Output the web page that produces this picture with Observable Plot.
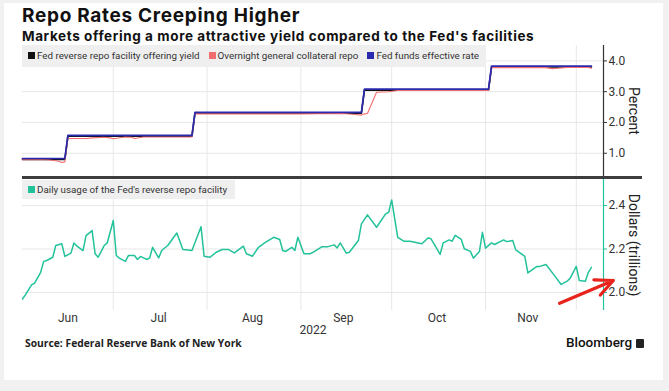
<!DOCTYPE html>
<html>
<head>
<meta charset="utf-8">
<script src="https://cdn.jsdelivr.net/npm/d3@7"></script>
<script src="https://cdn.jsdelivr.net/npm/@observablehq/plot@0.6"></script>
<style>
  body { margin: 0; background: #f1f1f1; font-family: Roboto, "Open Sans", sans-serif; }
  #page { position: relative; width: 669px; height: 391px; overflow: hidden; }
  #card { position: absolute; left: 4px; top: 3px; width: 659px; height: 377px; background: #fff; }
  .abs { position: absolute; white-space: nowrap; }
  #title { left: 22px; top: 6px; font-family: Inter, sans-serif; font-size: 19px; font-weight: 700; color: #111; line-height: 20px; letter-spacing: 0.7px; }
  #subtitle { left: 22px; top: 28.6px; font-family: Inter, sans-serif; font-size: 13.5px; font-weight: 700; color: #111; line-height: 15px; letter-spacing: 0.6px; }
  .legend { position: absolute; background: #efefef; font-size: 9.8px; color: #333; z-index: 2; white-space: nowrap; }
  .legend .item { display: inline-block; margin-right: 9px; }
  .legend .sw { display: inline-block; width: 7px; height: 7px; margin-right: 2px; vertical-align: 0px; }
  #sep { position: absolute; left: 22px; top: 176px; width: 620px; height: 3px; background: #3d3d3d; z-index: 3; }
  #source { left: 25px; top: 336px; font-family: "Open Sans", sans-serif; font-size: 10.3px; font-weight: 700; color: #222; line-height: 14px; }
  #brand { left: 566px; top: 334px; font-size: 13.5px; font-weight: 500; color: #111; line-height: 16px; }
  #top, #bottom { position: absolute; left: 0; }
  #top { top: 45px; } #bottom { top: 179px; }
</style>
</head>
<body>
<div id="page">
  <div id="card"></div>
  <div id="top"></div>
  <div id="bottom"></div>
  <div id="sep"></div>
  <div class="abs" id="title">Repo Rates Creeping Higher</div>
  <div class="abs" id="subtitle">Markets offering a more attractive yield compared to the Fed's facilities</div>
  <div class="legend" id="legTop" style="left:22px;top:45px;width:458px;height:22px;line-height:22px;padding-left:6px;"></div>
  <div class="legend" id="legBottom" style="left:22px;top:180px;width:207px;height:19px;line-height:19px;padding-left:6px;"></div>
  <div class="abs" id="source">Source: Federal Reserve Bank of New York</div>
  <div class="abs" id="brand">Bloomberg <span style="display:inline-block;width:8px;height:9px;background:#222;border-radius:1px;vertical-align:-1px"></span></div>
</div>
<script>
// ---------- data ----------
const seriesNames = ["Fed reverse repo facility offering yield", "Overnight general collateral repo", "Fed funds effective rate"];
const seriesColors = ["#111111", "#f26d6d", "#2a2aae"];
const usageName = "Daily usage of the Fed's reverse repo facility";
const usageColor = "#22c29a";

const rrpDates = ["2022-06-01","2022-06-15","2022-06-16","2022-07-27","2022-07-28","2022-09-21","2022-09-22","2022-11-02","2022-11-03","2022-12-06"];
const rrpValues = [0.80, 0.80, 1.55, 1.55, 2.30, 2.30, 3.05, 3.05, 3.80, 3.80];

const effrDates = ["2022-06-01","2022-06-15","2022-06-16","2022-07-27","2022-07-28","2022-09-21","2022-09-22","2022-11-02","2022-11-03","2022-12-06"];
const effrValues = [0.83, 0.83, 1.58, 1.58, 2.33, 2.33, 3.08, 3.08, 3.83, 3.83];

const gcDates = ["2022-06-01","2022-06-08","2022-06-10","2022-06-13","2022-06-14","2022-06-15","2022-06-16","2022-06-22","2022-06-24","2022-06-28","2022-06-30","2022-07-01","2022-07-05","2022-07-07","2022-07-08","2022-07-11","2022-07-27","2022-07-28","2022-08-31","2022-09-15","2022-09-19","2022-09-21","2022-09-22","2022-09-23","2022-09-26","2022-09-30","2022-10-03","2022-11-02","2022-11-03","2022-11-21","2022-11-23","2022-11-25","2022-11-28","2022-12-05","2022-12-06"];
const gcValues = [0.79, 0.79, 0.78, 0.74, 0.70, 0.72, 1.48, 1.48, 1.50, 1.52, 1.50, 1.47, 1.53, 1.52, 1.48, 1.53, 1.53, 2.28, 2.28, 2.29, 2.26, 2.24, 2.28, 2.29, 2.98, 3.00, 3.04, 3.04, 3.78, 3.78, 3.75, 3.76, 3.79, 3.79, 3.76];

const usageDates = ["2022-06-01","2022-06-02","2022-06-04","2022-06-05","2022-06-07","2022-06-08","2022-06-09","2022-06-11","2022-06-12","2022-06-14","2022-06-15","2022-06-17","2022-06-18","2022-06-19","2022-06-21","2022-06-22","2022-06-24","2022-06-25","2022-06-26","2022-06-28","2022-06-29","2022-07-01","2022-07-02","2022-07-03","2022-07-05","2022-07-06","2022-07-08","2022-07-09","2022-07-10","2022-07-12","2022-07-13","2022-07-14","2022-07-16","2022-07-17","2022-07-19","2022-07-22","2022-07-24","2022-07-27","2022-07-30","2022-07-31","2022-08-02","2022-08-04","2022-08-06","2022-08-08","2022-08-10","2022-08-13","2022-08-14","2022-08-16","2022-08-18","2022-08-20","2022-08-23","2022-08-25","2022-08-26","2022-08-27","2022-08-29","2022-08-30","2022-08-31","2022-09-02","2022-09-04","2022-09-05","2022-09-08","2022-09-10","2022-09-12","2022-09-13","2022-09-14","2022-09-16","2022-09-17","2022-09-20","2022-09-21","2022-09-23","2022-09-26","2022-09-29","2022-09-30","2022-10-01","2022-10-03","2022-10-05","2022-10-07","2022-10-11","2022-10-13","2022-10-14","2022-10-15","2022-10-17","2022-10-18","2022-10-20","2022-10-21","2022-10-22","2022-10-24","2022-10-25","2022-10-27","2022-10-28","2022-10-30","2022-10-31","2022-11-01","2022-11-03","2022-11-04","2022-11-07","2022-11-08","2022-11-10","2022-11-11","2022-11-14","2022-11-15","2022-11-18","2022-11-19","2022-11-21","2022-11-24","2022-11-26","2022-11-28","2022-11-29","2022-12-01","2022-12-02","2022-12-04","2022-12-05","2022-12-06"];
const usageValues = [1.970,1.990,2.035,2.043,2.093,2.143,2.147,2.162,2.216,2.224,2.166,2.181,2.228,2.213,2.193,2.262,2.285,2.178,2.162,2.216,2.228,2.331,2.170,2.158,2.143,2.170,2.170,2.152,2.166,2.152,2.158,2.208,2.159,2.193,2.216,2.274,2.198,2.193,2.303,2.167,2.162,2.185,2.198,2.198,2.182,2.213,2.178,2.167,2.208,2.228,2.254,2.244,2.193,2.189,2.208,2.193,2.254,2.178,2.178,2.185,2.211,2.211,2.219,2.205,2.228,2.181,2.185,2.239,2.316,2.357,2.300,2.362,2.369,2.426,2.254,2.236,2.236,2.224,2.251,2.247,2.224,2.175,2.228,2.242,2.236,2.263,2.244,2.201,2.189,2.158,2.189,2.277,2.204,2.228,2.221,2.242,2.234,2.239,2.196,2.166,2.090,2.120,2.120,2.129,2.074,2.037,2.052,2.066,2.120,2.055,2.052,2.093,2.116];

const xDomainDates = ["2022-06-01", "2022-12-10"];
const monthStarts = ["2022-07-01","2022-08-01","2022-09-01","2022-10-01","2022-11-01","2022-12-01"];
const monthTickDates = ["2022-06-16","2022-07-16","2022-08-16","2022-09-15","2022-10-16","2022-11-15"];
const monthLabels = ["Jun","Jul","Aug","Sep","Oct","Nov"];
const yearLabel = "2022";
const rateTicks = [1, 2, 3, 4];
const rateDomain = [0.245, 4.5];
const usageTicks = [2.0, 2.2, 2.4];
const usageDomain = [1.917, 2.52];
const rateAxisTitle = "Percent";
const usageAxisTitle = "Dollars (trillions)";

// annotation arrow (data coordinates)
const arrowFromDate = "2022-11-25T12:00Z", arrowFromValue = 1.95;
const arrowToDate = "2022-12-13T06:00Z", arrowToValue = 2.055;

// ---------- build ----------
const D = s => new Date(s);
const toRows = (ds, vs) => ds.map((d, i) => ({date: D(d), value: vs[i]}));
const rrp = toRows(rrpDates, rrpValues);
const effr = toRows(effrDates, effrValues);
const gc = toRows(gcDates, gcValues);
const usage = toRows(usageDates, usageValues);
const xDomain = xDomainDates.map(D);
const months = monthStarts.map(D);
const monthTicks = monthTickDates.map(D);
const labelByTime = new Map(monthTicks.map((d, i) => [+d, monthLabels[i]]));
const grid = "#e7e7e7";
const font = "Roboto, 'Open Sans', sans-serif";

const topPlot = Plot.plot({
  width: 669, height: 131,
  marginTop: 0, marginBottom: 0, marginLeft: 22, marginRight: 66,
  style: {fontFamily: font, fontSize: "12px", color: "#333", background: "transparent", overflow: "visible"},
  x: {type: "utc", domain: xDomain, axis: null},
  y: {domain: rateDomain, axis: null},
  marks: [
    Plot.ruleX(months, {stroke: grid}),
    Plot.ruleY(rateTicks, {stroke: grid}),
    Plot.line(rrp, {x: "date", y: "value", stroke: seriesColors[0], strokeWidth: 1.6}),
    Plot.line(gc, {x: "date", y: "value", stroke: seriesColors[1], strokeWidth: 1.1}),
    Plot.line(effr, {x: "date", y: "value", stroke: seriesColors[2], strokeWidth: 1.7}),
    Plot.ruleX([xDomain[1]], {stroke: "#333", strokeWidth: 1.2}),
    Plot.axisY(rateTicks, {anchor: "right", tickSize: 3, tickPadding: 2, tickFormat: d => d.toFixed(1), label: null, fontSize: 12, stroke: "#333"}),
    Plot.text([rateAxisTitle], {frameAnchor: "right", rotate: 90, dx: 30, fontSize: 14, fill: "#222", textAnchor: "middle"})
  ]
});
document.getElementById("top").appendChild(topPlot);

const bottomPlot = Plot.plot({
  width: 669, height: 161,
  marginTop: 0, marginBottom: 30, marginLeft: 22, marginRight: 66,
  style: {fontFamily: font, fontSize: "12px", color: "#333", background: "transparent", overflow: "visible"},
  x: {type: "utc", domain: xDomain, axis: null},
  y: {domain: usageDomain, axis: null},
  marks: [
    Plot.ruleX(months, {stroke: grid}),
    Plot.ruleY(usageTicks, {stroke: grid}),
    Plot.line(usage, {x: "date", y: "value", stroke: usageColor, strokeWidth: 1.5}),
    Plot.ruleX([xDomain[1]], {stroke: usageColor, strokeWidth: 1.2}),
    Plot.axisY(usageTicks, {anchor: "right", tickSize: 3, tickPadding: 2, tickFormat: d => d.toFixed(1), label: null, fontSize: 12, stroke: usageColor, fill: "#333"}),
    Plot.text([usageAxisTitle], {frameAnchor: "right", rotate: 90, dx: 30, fontSize: 14, fill: "#222", textAnchor: "middle"}),
    Plot.axisX(monthTicks, {tickSize: 0, tickPadding: 3, tickFormat: d => labelByTime.get(+d), label: null, fontSize: 12, fill: "#333"}),
    Plot.text([yearLabel], {frameAnchor: "bottom", dy: 23, fontSize: 12, fill: "#333"}),
    Plot.arrow([{x1: D(arrowFromDate), y1: arrowFromValue, x2: D(arrowToDate), y2: arrowToValue}],
      {x1: "x1", y1: "y1", x2: "x2", y2: "y2", stroke: "#e8231b", strokeWidth: 3.2, headLength: 12, headAngle: 50})
  ]
});
document.getElementById("bottom").appendChild(bottomPlot);

// legends
const legTop = document.getElementById("legTop");
seriesNames.forEach((n, i) => {
  const it = document.createElement("span");
  it.className = "item";
  it.innerHTML = `<span class="sw" style="background:${seriesColors[i]}"></span>`;
  it.appendChild(document.createTextNode(n));
  legTop.appendChild(it);
});
const legBottom = document.getElementById("legBottom");
{
  const it = document.createElement("span");
  it.className = "item";
  it.innerHTML = `<span class="sw" style="background:${usageColor}"></span>`;
  it.appendChild(document.createTextNode(usageName));
  legBottom.appendChild(it);
}
</script>
</body>
</html>
